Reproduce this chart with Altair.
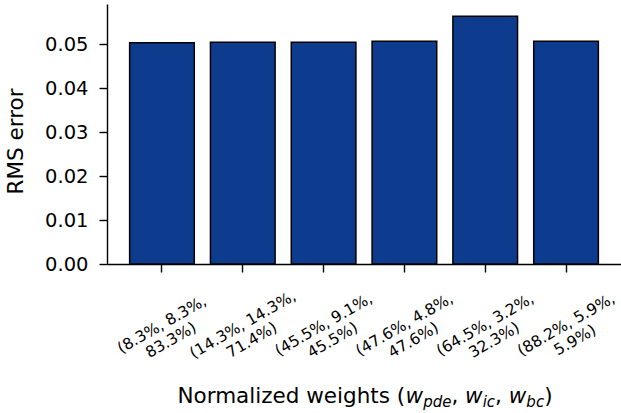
import altair as alt
import pandas as pd

# Normalized loss weights (w_pde, w_ic, w_bc) for each run and its RMS error
weights = [
    "(8.3%, 8.3%,\n83.3%)",
    "(14.3%, 14.3%,\n71.4%)",
    "(45.5%, 9.1%,\n45.5%)",
    "(47.6%, 4.8%,\n47.6%)",
    "(64.5%, 3.2%,\n32.3%)",
    "(88.2%, 5.9%,\n5.9%)",
]
rms_error = [0.0504, 0.0505, 0.0505, 0.0507, 0.0564, 0.0507]
y_ticks = [0.0, 0.01, 0.02, 0.03, 0.04, 0.05]

df = pd.DataFrame({"weights": weights, "rms": rms_error})

FONT = "DejaVu Sans"
W, H = 514, 260
PAD = {"left": 107, "top": 4, "right": 0, "bottom": 149}

bars = alt.Chart(df).mark_bar(
    color="#0d3c8f", stroke="black", strokeWidth=1.5
).encode(
    x=alt.X(
        "weights:N",
        sort=None,
        scale=alt.Scale(paddingInner=0.2, paddingOuter=0.28),
        axis=alt.Axis(
            title=None,
            labelExpr="split(datum.label, '\\n')",
            labelAngle=-30,
            labelAlign="center",
            labelBaseline="middle",
            labelPadding=52,
            labelFontSize=15.5,
            labelLineHeight=18,
            labelOverlap=False,
            tickSize=8,
        ),
    ),
    y=alt.Y(
        "rms:Q",
        scale=alt.Scale(domain=[0, 0.0592], nice=False),
        axis=alt.Axis(
            values=y_ticks,
            format=".2f",
            title="RMS error",
            titleAngle=270,
            titleX=-85,
            titleY=137,
            titleAlign="center",
            titleBaseline="alphabetic",
            titleFontSize=21.5,
            titleFontWeight="normal",
            labelFontSize=19.5,
            labelPadding=11,
            tickSize=8,
        ),
    ),
)

# x-axis title with italic math-style subscripts, laid out segment by segment
ADV = {
    "N": .748, "o": .612, "r": .411, "m": .974, "a": .613, "l": .278, "i": .278,
    "z": .525, "e": .615, "d": .635, " ": .318, "w": .818, "g": .635, "h": .634,
    "t": .392, "s": .521, "(": .390, ")": .390, ",": .318, "p": .635, "c": .550,
    "b": .635,
}
TITLE_SIZE = 21.5
SUB_SIZE = 15
segments = [
    ("Normalized weights (", "normal", TITLE_SIZE, 0),
    ("w", "italic", TITLE_SIZE, 0),
    ("pde", "italic", SUB_SIZE, 4),
    (", ", "normal", TITLE_SIZE, 0),
    ("w", "italic", TITLE_SIZE, 0),
    ("ic", "italic", SUB_SIZE, 4),
    (", ", "normal", TITLE_SIZE, 0),
    ("w", "italic", TITLE_SIZE, 0),
    ("bc", "italic", SUB_SIZE, 4),
    (")", "normal", TITLE_SIZE, 0),
]
total = sum(sum(ADV[c] for c in t) * s for t, _, s, _ in segments)
x0 = 258 - total / 2
baseline = 399

one_row = alt.Data(values=[{}])
title_layers = []
for text, style, size, dy in segments:
    title_layers.append(
        alt.Chart(one_row).mark_text(
            text=text, font=FONT, fontSize=size, fontStyle=style,
            align="left", baseline="alphabetic", color="black",
        ).encode(x=alt.value(x0), y=alt.value(baseline + dy))
    )
    x0 += sum(ADV[c] for c in text) * size

chart = alt.layer(bars, *title_layers).properties(
    width=W,
    height=H,
    autosize=alt.AutoSizeParams(type="none"),
    padding=PAD,
).configure(
    font=FONT,
).configure_view(
    stroke=None,
).configure_axis(
    labelFont=FONT,
    titleFont=FONT,
    labelFontWeight="normal",
    labelColor="black",
    titleColor="black",
    domainColor="black",
    domainWidth=1.4,
    tickColor="black",
    tickWidth=1.4,
    grid=False,
)

chart.save("out.html", embed_options={"renderer": "svg", "actions": False})
